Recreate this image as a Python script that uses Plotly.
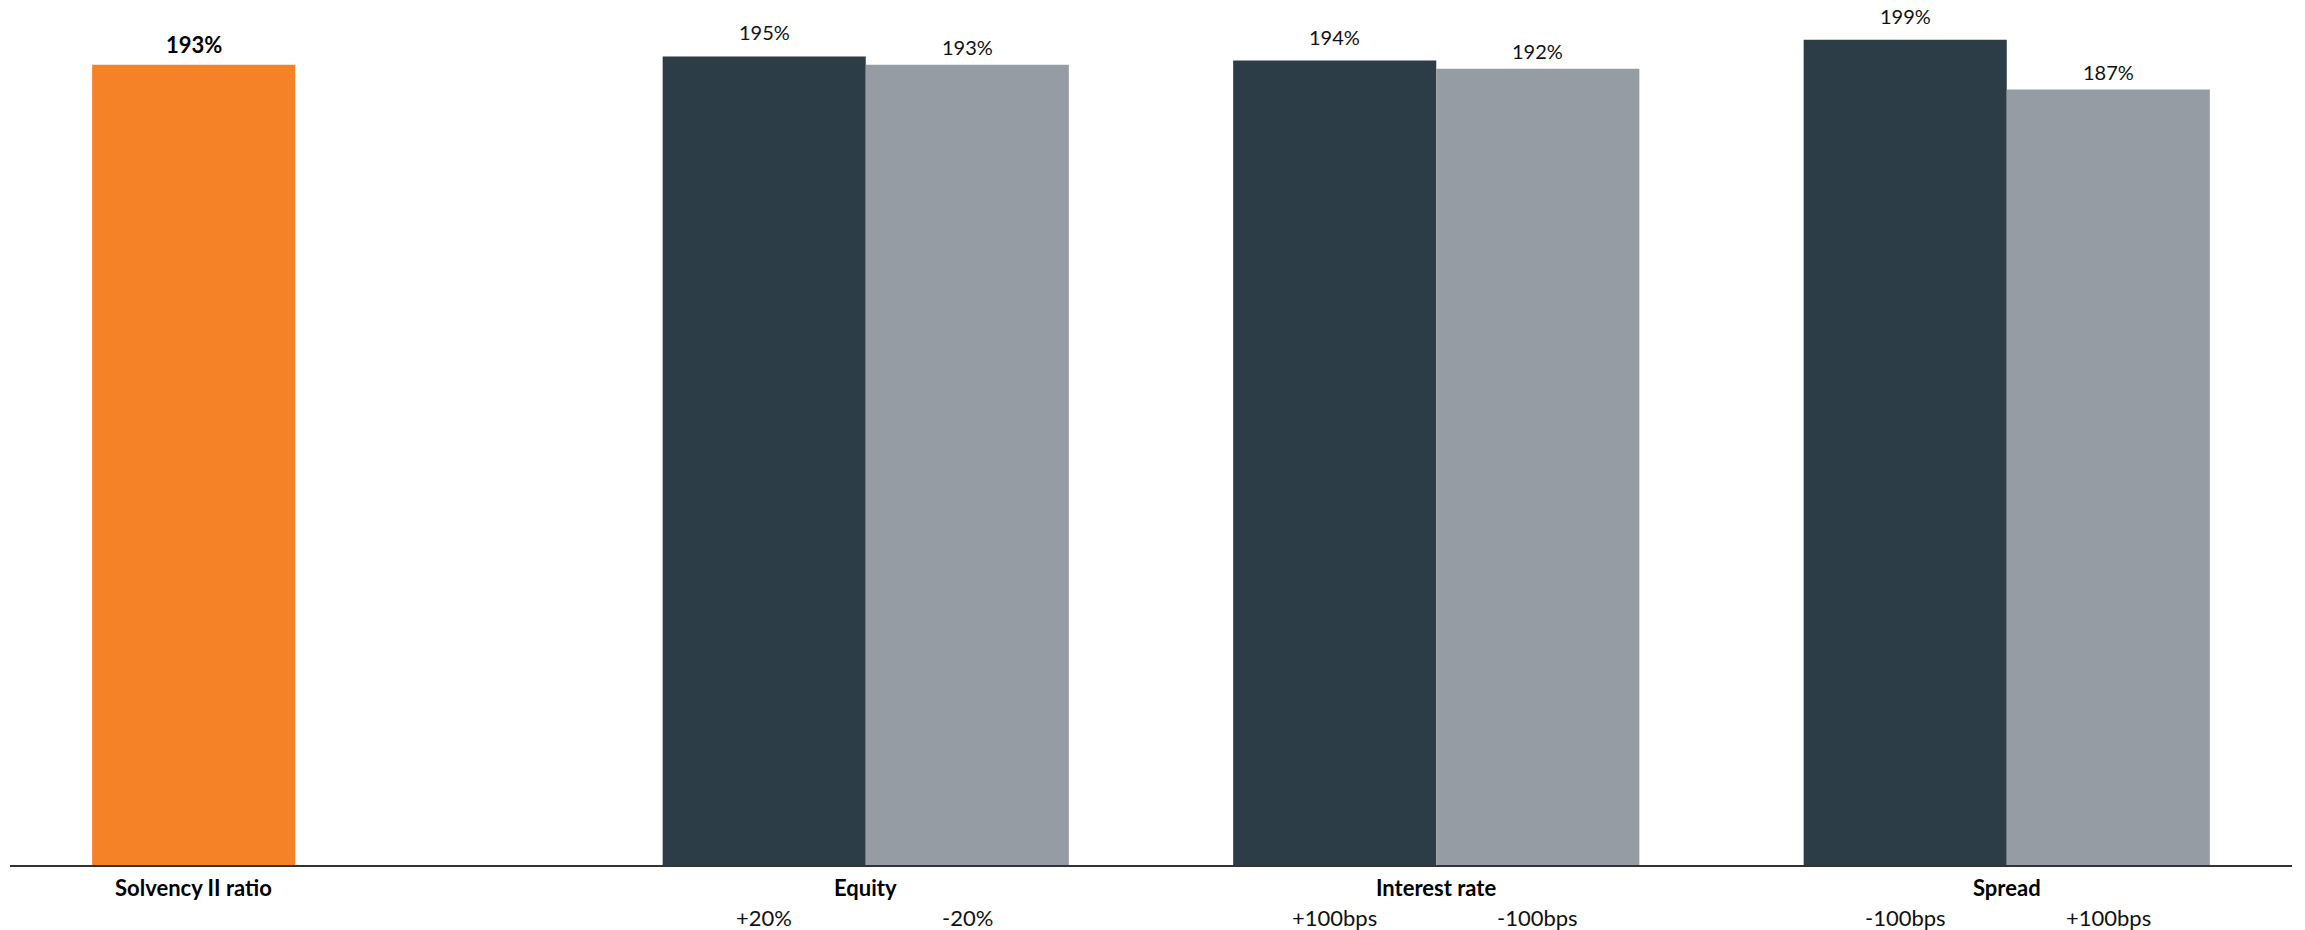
import plotly.graph_objects as go

# Solvency II ratio sensitivities
categories = ["Solvency II ratio", "Equity", "Interest rate", "Spread"]
shock_a = [193, 195, 194, 199]          # base ratio, then first shock of each pair
shock_b = [None, 193, 192, 187]         # second shock of each pair
labels_a = ["", "+20%", "+100bps", "-100bps"]
labels_b = ["", "-20%", "-100bps", "+100bps"]

ORANGE = "#F58226"
DARK = "#2C3D48"
GREY = "#969CA3"
FONT = "Lato, 'Open Sans', sans-serif"

W, H = 2305, 930
M_L, M_R, M_T, M_B = 10, 13, 0, 65
Y_MAX = 208.6
BARGAP = 0.288

colors_a = [ORANGE] + [DARK] * (len(categories) - 1)

fig = go.Figure()
fig.add_trace(go.Bar(x=categories, y=shock_a, marker=dict(color=colors_a, line=dict(width=0)),
                     hoverinfo="skip"))
fig.add_trace(go.Bar(x=categories, y=shock_b, marker=dict(color=GREY, line=dict(width=0)),
                     hoverinfo="skip"))

# half of one bar's width in pixels: used to centre text over each bar of a pair
plot_w = W - M_L - M_R
slot_px = plot_w / len(categories)
half_bar = slot_px * (1 - BARGAP) / 4

LABEL_FONT = dict(size=22, color="#111111", family=FONT)
VALUE_FONT = dict(size=20, color="#111111", family=FONT)
BOLD_FONT = dict(size=22, color="#000000", family=FONT)

annotations = []
for i, cat in enumerate(categories):
    va, vb = shock_a[i], shock_b[i]
    if vb is None:
        # single base bar drawn in the left slot, with its name under it
        annotations.append(dict(x=cat, y=va, xshift=-half_bar, yshift=20, text=f"<b>{va}%</b>",
                                showarrow=False, yanchor="middle", font=BOLD_FONT))
        annotations.append(dict(x=cat, y=0, xshift=-half_bar, yshift=-22, text=f"<b>{cat}</b>",
                                showarrow=False, yanchor="middle", font=BOLD_FONT))
        continue
    annotations.append(dict(x=cat, y=0, yshift=-22, text=f"<b>{cat}</b>",
                            showarrow=False, yanchor="middle", font=BOLD_FONT))
    annotations.append(dict(x=cat, y=va, xshift=-half_bar, yshift=24, text=f"{va}%",
                            showarrow=False, yanchor="middle", font=VALUE_FONT))
    annotations.append(dict(x=cat, y=vb, xshift=half_bar, yshift=18, text=f"{vb}%",
                            showarrow=False, yanchor="middle", font=VALUE_FONT))
    annotations.append(dict(x=cat, y=0, xshift=-half_bar, yshift=-52, text=labels_a[i],
                            showarrow=False, yanchor="middle", font=LABEL_FONT))
    annotations.append(dict(x=cat, y=0, xshift=half_bar, yshift=-52, text=labels_b[i],
                            showarrow=False, yanchor="middle", font=LABEL_FONT))

fig.update_layout(
    width=W, height=H,
    margin=dict(l=M_L, r=M_R, t=M_T, b=M_B, pad=0),
    paper_bgcolor="white", plot_bgcolor="white",
    barmode="group", bargap=BARGAP, bargroupgap=0,
    showlegend=False,
    annotations=annotations,
    font=dict(family=FONT, color="#111111"),
    xaxis=dict(
        type="category",
        showticklabels=False,
        showline=True, linecolor="#333333", linewidth=2,
        ticks="", showgrid=False, zeroline=False,
    ),
    yaxis=dict(range=[0, Y_MAX], visible=False, showgrid=False, zeroline=False),
)

fig.write_html("out.html")
